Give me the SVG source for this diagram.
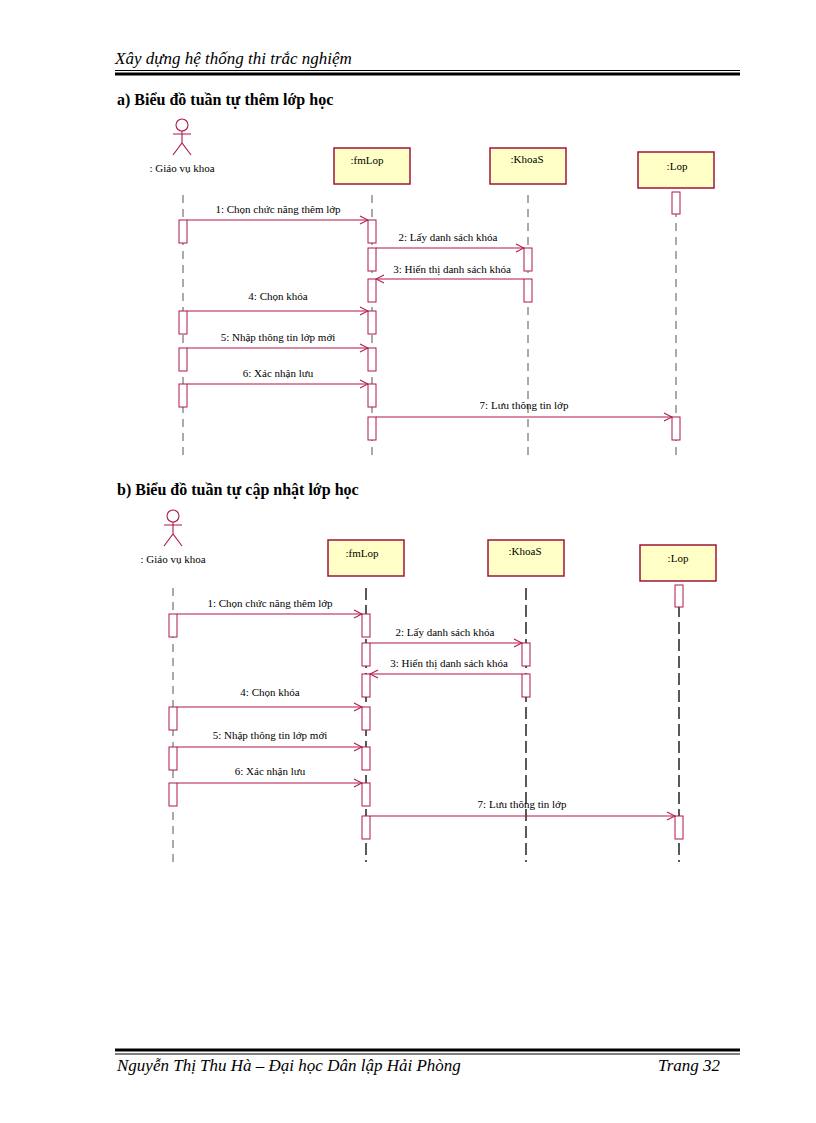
<svg xmlns="http://www.w3.org/2000/svg" width="816" height="1123" viewBox="0 0 816 1123">
<style>
.h{font-family:"Liberation Serif",serif;font-style:italic;font-size:17px;fill:#000}
.t{font-family:"Liberation Serif",serif;font-weight:bold;font-size:16px;fill:#000}
.l{font-family:"Liberation Serif",serif;font-size:11px;fill:#000;text-anchor:middle}
.box{fill:#ffffc6;stroke:#a0143c;stroke-width:1.5}
.act{fill:#fff;stroke:#b01848;stroke-width:1}
.ll{stroke:#555;stroke-width:1;stroke-dasharray:8 6}
.ll2{stroke:#000;stroke-width:1.3;stroke-dasharray:12 5}
.m{stroke:#b01848;stroke-width:1.1;fill:none;marker-end:url(#ah)}
.actor{stroke:#b01848;stroke-width:1.1;fill:none}
</style>
<defs><marker id="ah" markerWidth="10" markerHeight="10" refX="9" refY="5" orient="auto" markerUnits="userSpaceOnUse"><path d="M1 1 L9 5 L1 9" fill="none" stroke="#b01848" stroke-width="1.1"/></marker></defs>
<rect width="816" height="1123" fill="#fff"/>
<text class="h" x="115" y="64">Xây dựng hệ thống thi trắc nghiệm</text>
<line x1="115" y1="70.5" x2="740" y2="70.5" stroke="#000" stroke-width="1"/>
<line x1="115" y1="74" x2="740" y2="74" stroke="#000" stroke-width="3"/>
<text class="t" x="117" y="105">a) Biểu đồ tuần tự thêm lớp học</text>
<text class="t" x="117" y="495">b) Biểu đồ tuần tự cập nhật lớp học</text>

<g id="diagA">
<g id="a-actor"><circle class="actor" cx="182" cy="125" r="6"/><path class="actor" d="M182 131V143M173 134H191M173 155L182 143L191 155"/><text class="l" x="182" y="172">: Giáo vụ khoa</text></g>
<g id="a-fmLop"><rect class="box" x="334" y="148" width="76" height="36"/><text class="l" x="367" y="164">:fmLop</text></g>
<g id="a-KhoaS"><rect class="box" x="490" y="148" width="76" height="36"/><text class="l" x="527" y="163">:KhoaS</text></g>
<g id="a-Lop"><rect class="box" x="638" y="152" width="76" height="36"/><text class="l" x="677" y="170">:Lop</text></g>
<g id="a-lifelines">
<line class="ll" x1="183" y1="195" x2="183" y2="460"/><line class="ll" x1="372" y1="195" x2="372" y2="460"/>
<line class="ll" x1="528" y1="195" x2="528" y2="460"/><line class="ll" x1="676" y1="195" x2="676" y2="460"/>
</g>
<g id="a-acts">
<rect class="act" x="672" y="192" width="8" height="22"/>
<rect class="act" x="179" y="220" width="8" height="23"/><rect class="act" x="368" y="220" width="8" height="23"/>
<rect class="act" x="368" y="248" width="8" height="23"/><rect class="act" x="524" y="248" width="8" height="23"/>
<rect class="act" x="368" y="279" width="8" height="23"/><rect class="act" x="524" y="279" width="8" height="23"/>
<rect class="act" x="179" y="311" width="8" height="23"/><rect class="act" x="368" y="311" width="8" height="23"/>
<rect class="act" x="179" y="348" width="8" height="23"/><rect class="act" x="368" y="348" width="8" height="23"/>
<rect class="act" x="179" y="384" width="8" height="23"/><rect class="act" x="368" y="384" width="8" height="23"/>
<rect class="act" x="368" y="417" width="8" height="23"/><rect class="act" x="672" y="417" width="8" height="23"/>
</g>
<g id="a-connectors">
<line class="m" x1="187" y1="220" x2="368" y2="220"/><text class="l" x="278" y="213">1: Chọn chức năng thêm lớp</text>
<line class="m" x1="376" y1="248" x2="524" y2="248"/><text class="l" x="448" y="241">2: Lấy danh sách khóa</text>
<line class="m" x1="524" y1="279" x2="376" y2="279"/><text class="l" x="452" y="273">3: Hiển thị danh sách khóa</text>
<line class="m" x1="187" y1="311" x2="368" y2="311"/><text class="l" x="278" y="300">4: Chọn khóa</text>
<line class="m" x1="187" y1="348" x2="368" y2="348"/><text class="l" x="278" y="341">5: Nhập thông tin lớp mới</text>
<line class="m" x1="187" y1="384" x2="368" y2="384"/><text class="l" x="278" y="377">6: Xác nhận lưu</text>
<line class="m" x1="376" y1="417" x2="672" y2="417"/><text class="l" x="524" y="409">7: Lưu thông tin lớp</text>
</g>
</g>

<g id="diagB">
<g id="b-actor"><circle class="actor" cx="173" cy="516" r="6"/><path class="actor" d="M173 522V534M164 525H182M164 546L173 534L182 546"/><text class="l" x="173" y="563">: Giáo vụ khoa</text></g>
<g id="b-fmLop"><rect class="box" x="328" y="540" width="76" height="36"/><text class="l" x="362" y="557">:fmLop</text></g>
<g id="b-KhoaS"><rect class="box" x="488" y="540" width="76" height="36"/><text class="l" x="525" y="555">:KhoaS</text></g>
<g id="b-Lop"><rect class="box" x="640" y="545" width="76" height="36"/><text class="l" x="678" y="562">:Lop</text></g>
<g id="b-lifelines">
<line class="ll" x1="173" y1="588" x2="173" y2="862"/><line class="ll2" x1="366" y1="588" x2="366" y2="862"/>
<line class="ll2" x1="526" y1="588" x2="526" y2="862"/><line class="ll2" x1="679" y1="588" x2="679" y2="862"/>
</g>
<g id="b-acts">
<rect class="act" x="675" y="585" width="8" height="22"/>
<rect class="act" x="169" y="614" width="8" height="23"/><rect class="act" x="362" y="614" width="8" height="23"/>
<rect class="act" x="362" y="643" width="8" height="23"/><rect class="act" x="522" y="643" width="8" height="23"/>
<rect class="act" x="362" y="674" width="8" height="23"/><rect class="act" x="522" y="674" width="8" height="23"/>
<rect class="act" x="169" y="707" width="8" height="23"/><rect class="act" x="362" y="707" width="8" height="23"/>
<rect class="act" x="169" y="747" width="8" height="23"/><rect class="act" x="362" y="747" width="8" height="23"/>
<rect class="act" x="169" y="783" width="8" height="23"/><rect class="act" x="362" y="783" width="8" height="23"/>
<rect class="act" x="362" y="816" width="8" height="23"/><rect class="act" x="675" y="816" width="8" height="23"/>
</g>
<g id="b-connectors">
<line class="m" x1="177" y1="614" x2="362" y2="614"/><text class="l" x="270" y="607">1: Chọn chức năng thêm lớp</text>
<line class="m" x1="370" y1="643" x2="522" y2="643"/><text class="l" x="445" y="636">2: Lấy danh sách khóa</text>
<line class="m" x1="522" y1="674" x2="370" y2="674"/><text class="l" x="449" y="667">3: Hiển thị danh sách khóa</text>
<line class="m" x1="177" y1="707" x2="362" y2="707"/><text class="l" x="270" y="696">4: Chọn khóa</text>
<line class="m" x1="177" y1="747" x2="362" y2="747"/><text class="l" x="270" y="739">5: Nhập thông tin lớp mới</text>
<line class="m" x1="177" y1="783" x2="362" y2="783"/><text class="l" x="270" y="775">6: Xác nhận lưu</text>
<line class="m" x1="370" y1="816" x2="675" y2="816"/><text class="l" x="522" y="808">7: Lưu thông tin lớp</text>
</g>
</g>

<line x1="115" y1="1050" x2="740" y2="1050" stroke="#000" stroke-width="3"/>
<line x1="115" y1="1054" x2="740" y2="1054" stroke="#000" stroke-width="1"/>
<text class="h" x="117" y="1071">Nguyễn Thị Thu Hà – Đại học Dân lập Hải Phòng</text>
<text class="h" x="720" y="1071" text-anchor="end">Trang 32</text>
</svg>
